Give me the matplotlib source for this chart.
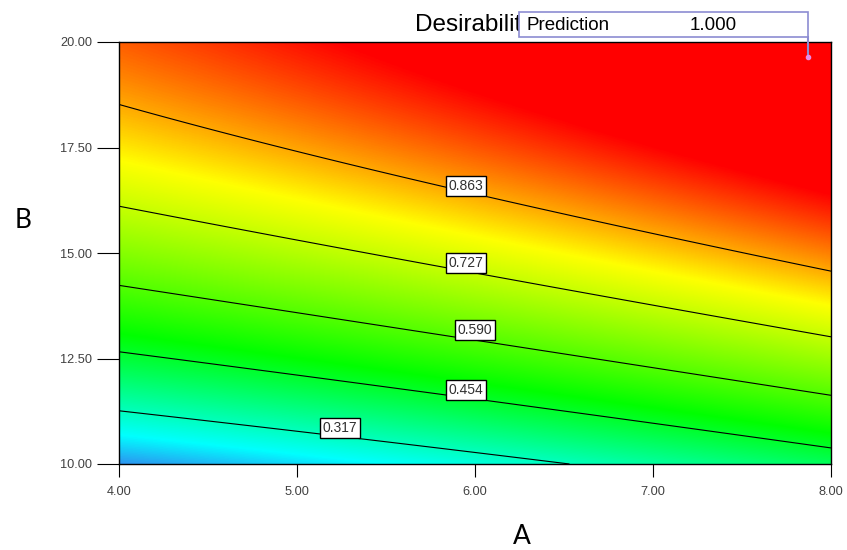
"""
plot.py — desirability contour over factors A and B, with prediction flag.
"""

import matplotlib
matplotlib.use("Agg")
import matplotlib.pyplot as plt
import numpy as np
from matplotlib.colors import LinearSegmentedColormap
from matplotlib.patches import Rectangle

# ── Values ───────────────────────────────────────────────────────────────────
levels = [0.317, 0.454, 0.590, 0.727, 0.863]

# points (A, B) where each contour line was read
line_a = [
    [4.00, 5.02, 6.52],   # 0.317
    [4.00, 6.00, 8.00],   # 0.454
    [4.00, 6.00, 8.00],   # 0.590
    [4.00, 6.00, 8.00],   # 0.727
    [4.00, 6.00, 8.00],   # 0.863
]
line_b = [
    [11.27, 10.76, 10.00],
    [12.65, 11.56, 10.38],
    [14.24, 12.91, 11.64],
    [16.11, 14.53, 13.01],
    [18.51, 16.42, 14.56],
]

# contour label boxes
label_a = [5.24, 5.95, 6.00, 5.95, 5.95]
label_b = [10.85, 11.75, 13.18, 14.76, 16.59]

a_ticks = [4.00, 5.00, 6.00, 7.00, 8.00]
b_ticks = [10.00, 12.50, 15.00, 17.50, 20.00]

flag_a, flag_b = 7.87, 19.64
prediction = 1.000

# ── Response surface (quadratic fit through the read contour points) ────────
pa = np.concatenate(line_a)
pb = np.concatenate(line_b)
pd_ = np.repeat(levels, 3)
X = np.column_stack([np.ones_like(pa), pa, pb, pa * pb, pa ** 2, pb ** 2])
coef, *_ = np.linalg.lstsq(X, pd_, rcond=None)

ga, gb = np.meshgrid(np.linspace(4, 8, 500), np.linspace(10, 20, 500))
G = np.stack([np.ones_like(ga), ga, gb, ga * gb, ga ** 2, gb ** 2], axis=-1)
d = np.clip(G @ coef, 0, 1)

cmap = LinearSegmentedColormap.from_list("de", [
    (0.00, "#2c96f0"),
    (0.09, "#00ffff"),
    (0.38, "#00ff00"),
    (0.75, "#ffff00"),
    (1.00, "#ff0000"),
])

# ── Plot ─────────────────────────────────────────────────────────────────────
plt.rcParams["font.family"] = ["Liberation Sans", "DejaVu Sans"]
fig = plt.figure(figsize=(8.47, 5.5), dpi=100)
ax = fig.add_axes([119 / 847, 86 / 550, 712 / 847, 422 / 550])

ax.imshow(d, extent=[4, 8, 10, 20], origin="lower", aspect="auto",
          cmap=cmap, vmin=d.min(), vmax=1.0, interpolation="bilinear")
ax.contour(ga, gb, d, levels=levels, colors="black", linewidths=0.8)

for lv, la, lb in zip(levels, label_a, label_b):
    ax.text(la, lb, f"{lv:.3f}", ha="center", va="center", fontsize=10,
            color="#303030",
            bbox=dict(boxstyle="square,pad=0.2", fc="white", ec="black", lw=1.0))

ax.set_xlim(4, 8); ax.set_ylim(10, 20)
ax.set_xticks(a_ticks); ax.set_yticks(b_ticks)
ax.set_xticklabels([f"{v:.2f}" for v in a_ticks])
ax.set_yticklabels([f"{v:.2f}" for v in b_ticks])
ax.tick_params(axis="x", length=9.5, pad=6, labelsize=9.2, labelcolor="#404040")
ax.tick_params(axis="y", length=15.8, pad=3.5, labelsize=9.2, labelcolor="#404040")
for s in ax.spines.values():
    s.set_linewidth(1.0)

fig.text(522 / 847, 1 - 536 / 550, "A", ha="center", va="center",
         fontsize=19, family=["Lato", "DejaVu Sans"])
fig.text(23 / 847, 1 - 220 / 550, "B", ha="center", va="center",
         fontsize=19, family=["Lato", "DejaVu Sans"])

fig.text(474 / 847, 1 - 31 / 550, "Desirability", ha="center", va="baseline",
         fontsize=17.5, zorder=1)

# prediction flag
fig.add_artist(Rectangle((519 / 847, 1 - 37 / 550), 289 / 847, 25 / 550,
                         transform=fig.transFigure, fc="white", ec="#8c8cd2",
                         lw=1.2, zorder=5))
fig.text(526 / 847, 1 - 30 / 550, "Prediction", ha="left", va="baseline",
         fontsize=13.5, zorder=6)
fig.text(690 / 847, 1 - 30 / 550, f"{prediction:.3f}", ha="left", va="baseline",
         fontsize=13.5, zorder=6)
ax.plot([flag_a, flag_a], [flag_b, 20.12], color="#8c8cd2", lw=1.5,
        clip_on=False, zorder=6)
ax.plot([flag_a], [flag_b], marker="o", ms=3, color="#e68ce6", zorder=7)

plt.savefig("out.png", dpi=100)
